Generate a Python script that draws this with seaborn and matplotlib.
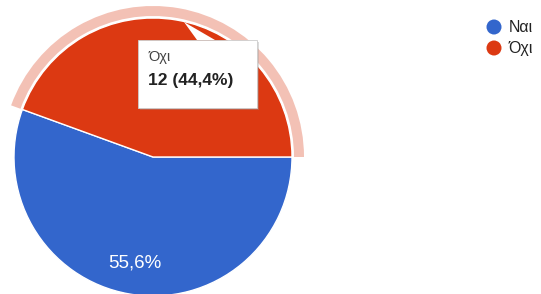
import matplotlib

matplotlib.use("Agg")
import matplotlib.pyplot as plt
import seaborn as sns
from matplotlib.patches import Wedge, Rectangle, Polygon, Circle

labels = ["Ναι", "Όχι"]
counts = [15, 12]
colors = ["#3366cc", "#dc3912"]
highlight = 1  # slice with tooltip

sns.set_theme(style="white")
plt.rcParams["font.family"] = ["Liberation Sans", "DejaVu Sans"]

W, H = 541, 294
fig = plt.figure(figsize=(W / 100, H / 100), dpi=100)
ax = fig.add_axes([0, 0, 1, 1])

cx, cy, r = 153, H - 157, 139
total = sum(counts)
wedges, _ = ax.pie(counts, colors=colors, startangle=0, counterclock=False,
                   center=(cx, cy), radius=r, frame=True,
                   wedgeprops={"edgecolor": "white", "linewidth": 1.0})
ax.set_xlim(0, W)
ax.set_ylim(0, H)
ax.set_aspect("equal")
ax.axis("off")

# highlight ring around hovered slice
hw = wedges[highlight]
ax.add_patch(Wedge((cx, cy), r + 12, hw.theta1, hw.theta2, width=10,
                   facecolor="#f3c1b5", edgecolor="none"))

# percentage label inside the big slice
pct0 = counts[0] / total * 100
ax.text(135, H - 263, f"{pct0:.1f}%".replace(".", ","), color="white",
        fontsize=13.5, ha="center", va="center")

# tooltip
bx0, bx1, by0, by1 = 138, 257, H - 108, H - 40
ax.add_patch(Rectangle((bx0 + 1.5, by0 - 1.5), bx1 - bx0, by1 - by0,
                       facecolor="#999999", alpha=0.35, edgecolor="none"))
ax.add_patch(Rectangle((bx0, by0), bx1 - bx0, by1 - by0,
                       facecolor="white", edgecolor="#cccccc", linewidth=0.6))
ax.add_patch(Polygon([(184, H - 22), (197, by1), (215, by1)], closed=True,
                     facecolor="white", edgecolor="none"))
pct1 = counts[highlight] / total * 100
ax.text(148, H - 57, labels[highlight], fontsize=10.5, color="#444444",
        ha="left", va="center")
ax.text(148, H - 80, f"{counts[highlight]} ({pct1:.1f}%)".replace(".", ","),
        fontsize=12.5, color="#222222", fontweight="bold", ha="left", va="center")

# legend
for i, (lab, col) in enumerate(zip(labels, colors)):
    y = H - 27 - i * 21
    ax.add_patch(Circle((494, y), 7.5, facecolor=col, edgecolor="none"))
    ax.text(509, y, lab, fontsize=11.5, color="#222222", ha="left", va="center")

fig.savefig("out.png", dpi=100)
